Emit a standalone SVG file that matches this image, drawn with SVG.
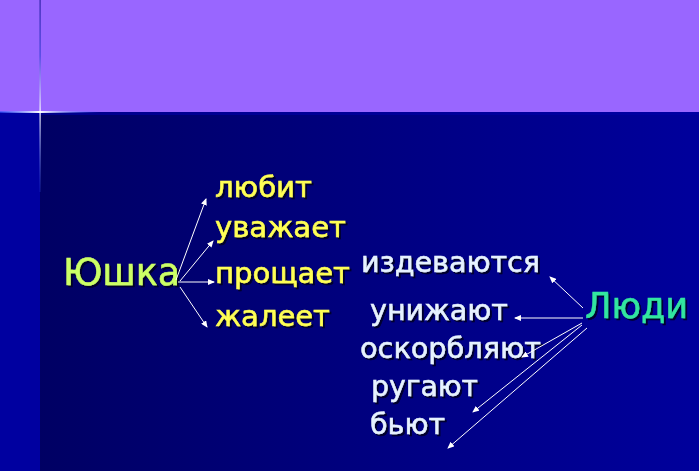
<svg xmlns="http://www.w3.org/2000/svg" width="699" height="471" viewBox="0 0 699 471">
<style>
text{font-family:"DejaVu Sans","Verdana",sans-serif;filter:url(#shadow);stroke-width:0.5}
.y{fill:#FFFF55;stroke:#FFFF55;font-size:28px}
.w{fill:#E6F2FF;stroke:#E6F2FF;font-size:28px}
.con line{stroke:#FFFFFF;stroke-width:1;marker-end:url(#ah)}
</style>
<defs>
<filter id="shadow" x="-10%" y="-20%" width="120%" height="150%">
<feDropShadow dx="2" dy="2" stdDeviation="0.6" flood-color="#000020" flood-opacity="0.85"/>
</filter>
<linearGradient id="bg" x1="0" y1="0" x2="1" y2="0">
<stop offset="0" stop-color="#000060"/>
<stop offset="1" stop-color="#00009C"/>
</linearGradient>
<linearGradient id="hl" x1="0" y1="0" x2="1" y2="0">
<stop offset="0" stop-color="#3355FF" stop-opacity="0.6"/>
<stop offset="0.4" stop-color="#FFFFFF"/>
<stop offset="1" stop-color="#3355FF" stop-opacity="0"/>
</linearGradient>
<linearGradient id="vl" x1="0" y1="0" x2="0" y2="1">
<stop offset="0" stop-color="#3322AA"/>
<stop offset="0.5" stop-color="#4444DD"/>
<stop offset="1" stop-color="#FFFFFF"/>
</linearGradient>
<linearGradient id="vl2" x1="0" y1="0" x2="0" y2="1">
<stop offset="0" stop-color="#FFFFFF"/>
<stop offset="1" stop-color="#4466FF" stop-opacity="0.2"/>
</linearGradient>
<marker id="ah" markerWidth="7" markerHeight="6" refX="6" refY="3" orient="auto" markerUnits="userSpaceOnUse">
<path d="M0,0 L7,3 L0,6 Z" fill="#FFFFFF"/>
</marker>
</defs>
<g id="background">
<rect x="0" y="112" width="699" height="359" fill="url(#bg)"/>
<rect x="0" y="112" width="40" height="359" fill="#0000A0"/>
<rect x="0" y="0" width="699" height="112" fill="#9966FF"/>
<rect x="0" y="112" width="699" height="3" fill="#0000A8" opacity="0.6"/>
<rect x="0" y="111" width="100" height="2" fill="url(#hl)"/>
<rect x="39.5" y="0" width="1.2" height="112" fill="url(#vl)"/>
<rect x="39.5" y="112" width="1.2" height="80" fill="url(#vl2)"/>
</g>
<g id="node-yushka">
<text x="63" y="285" font-size="37" fill="#CCFF66" stroke="#CCFF66" textLength="117" lengthAdjust="spacingAndGlyphs">Юшка</text>
</g>
<g id="node-lyubit">
<text x="215" y="197" class="y" textLength="97" lengthAdjust="spacingAndGlyphs">любит</text>
</g>
<g id="node-uvazhaet">
<text x="215" y="237" class="y" textLength="131" lengthAdjust="spacingAndGlyphs">уважает</text>
</g>
<g id="node-proshchaet">
<text x="215" y="283" class="y" textLength="135" lengthAdjust="spacingAndGlyphs">прощает</text>
</g>
<g id="node-zhaleet">
<text x="215" y="326" class="y" textLength="115" lengthAdjust="spacingAndGlyphs">жалеет</text>
</g>
<g id="node-lyudi">
<text x="585" y="318" font-size="36" fill="#33E6A0" stroke="#33E6A0" textLength="103" lengthAdjust="spacingAndGlyphs">Люди</text>
</g>
<g id="node-izdevayutsya">
<text x="361" y="272" class="w" textLength="179" lengthAdjust="spacingAndGlyphs">издеваются</text>
</g>
<g id="node-unizhayut">
<text x="370" y="320" class="w" textLength="138" lengthAdjust="spacingAndGlyphs">унижают</text>
</g>
<g id="node-oskorblyayut">
<text x="360" y="358" class="w" textLength="181" lengthAdjust="spacingAndGlyphs">оскорбляют</text>
</g>
<g id="node-rugayut">
<text x="371" y="396" class="w" textLength="107" lengthAdjust="spacingAndGlyphs">ругают</text>
</g>
<g id="node-byut">
<text x="370" y="434" class="w" textLength="75" lengthAdjust="spacingAndGlyphs">бьют</text>
</g>
<g id="connectors" class="con">
<line x1="176" y1="280" x2="206" y2="199"/>
<line x1="180" y1="281" x2="213" y2="241"/>
<line x1="178" y1="282" x2="214" y2="282"/>
<line x1="180" y1="287" x2="207" y2="327"/>
<line x1="583" y1="308" x2="550" y2="277"/>
<line x1="583" y1="318" x2="515" y2="318"/>
<line x1="582" y1="323" x2="522" y2="357"/>
<line x1="582" y1="325" x2="473" y2="412"/>
<line x1="587" y1="328" x2="448" y2="448"/>
</g>
</svg>
